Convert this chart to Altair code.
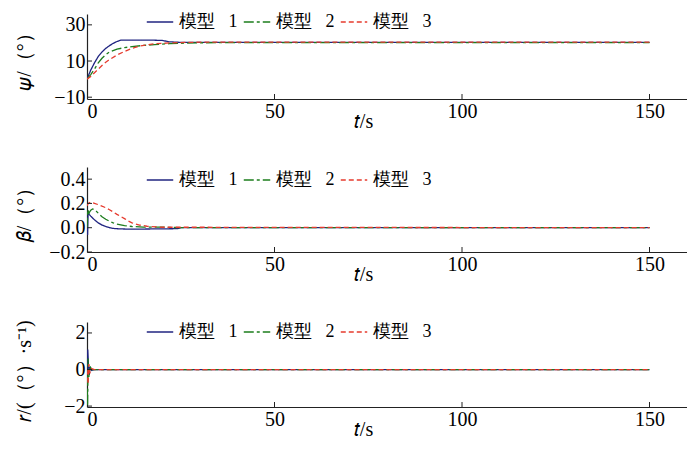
import altair as alt
import pandas as pd

models = ["模型\u2002 1", "模型\u2002 2", "模型\u2002 3"]
colors = ["#1f2480", "#1d7d1d", "#e63b2e"]
dashes = [[1, 0], [10, 3, 3, 3], [5, 3]]
x_ticks = [0, 50, 100, 150]

# panel 1: psi
psi_t1 = [0, 0.5, 1, 2, 3, 4, 5, 6, 7, 8, 9, 12, 16, 20, 22, 25, 150]
psi_v1 = [0, 2.5, 5, 9, 12.5, 15, 17, 18.5, 19.8, 20.8, 21.5, 21.6, 21.6, 21.4, 20.6, 20.3, 20.3]
psi_t2 = [0, 1, 2, 3, 4, 5, 6, 8, 10, 12, 15, 18, 22, 26, 30, 45, 150]
psi_v2 = [0, 2.5, 5.5, 9, 11.5, 13.5, 15, 16.6, 17.4, 18, 18.6, 19.1, 19.6, 19.9, 20.1, 20.2, 20.2]
psi_t3 = [0, 1, 2, 3, 4, 5, 6, 8, 10, 12, 14, 16, 18, 22, 26, 30, 150]
psi_v3 = [0, 1.5, 3.5, 5.5, 7.5, 9.3, 10.8, 13.3, 15.3, 17, 18.2, 19, 19.5, 20, 20.3, 20.4, 20.4]
psi_ticks = [-10, 10, 30]

# panel 2: beta
beta_t1 = [0, 0.15, 0.3, 0.6, 1, 2, 3, 4, 5, 6, 7, 9, 12, 18, 24, 25, 150]
beta_v1 = [0, -0.06, 0.13, 0.11, 0.095, 0.065, 0.04, 0.022, 0.01, 0.0, -0.006, -0.01, -0.012, -0.01, -0.008, 0, 0]
beta_t2 = [0, 0.2, 0.5, 1, 1.5, 2, 3, 4, 5, 6, 7, 8, 10, 12, 15, 20, 25, 150]
beta_v2 = [0, 0.15, 0.12, 0.145, 0.155, 0.15, 0.12, 0.09, 0.07, 0.053, 0.04, 0.03, 0.017, 0.01, 0.005, 0.005, 0, 0]
beta_t3 = [0, 0.3, 1, 2, 3, 4, 5, 6, 7, 8, 9, 10, 11, 12, 14, 16, 20, 150]
beta_v3 = [0.18, 0.2, 0.21, 0.2, 0.19, 0.177, 0.165, 0.148, 0.13, 0.11, 0.092, 0.075, 0.055, 0.04, 0.022, 0.012, 0.004, 0]
beta_ticks = [-0.2, 0, 0.2, 0.4]

# panel 3: r
r_t1 = [0, 0.2, 0.4, 0.6, 0.8, 1.2, 2, 150]
r_v1 = [0, 1.1, 0.2, -0.3, 0.15, -0.05, 0, 0]
r_t2 = [0, 0.15, 0.3, 0.5, 0.8, 1.2, 2, 150]
r_v2 = [0, -2.0, 0.6, -0.4, 0.2, 0, 0, 0]
r_t3 = [0, 0.3, 0.5, 0.8, 1.2, 2, 150]
r_v3 = [0, -0.8, 0.3, -0.2, 0.05, 0, 0]
r_ticks = [-2, 0, 2]

W, H = 600, 85
FONT = "Liberation Serif"


def make_df(ts, vs):
    rows = []
    for m, t, v in zip(models, ts, vs):
        for a, b in zip(t, v):
            rows.append({"t": a, "v": b, "model": m})
    return pd.DataFrame(rows)


def panel(df, ydom, yticks, ytitle, legend_y, title_dy=0):
    X = alt.X("t:Q", scale=alt.Scale(domain=[0, 160], nice=False, zero=False),
              axis=alt.Axis(values=x_ticks, title="𝑡/s", titleX=276, titleY=22,
                            titleBaseline="middle", titleAlign="center"))
    Y = alt.Y("v:Q", scale=alt.Scale(domain=ydom, nice=False, zero=False),
              axis=alt.Axis(values=yticks, title=ytitle, titleX=-63, titleY=H / 2 + title_dy,
                            titleAngle=-90, titleAlign="center", titleBaseline="middle"))
    leg = alt.Legend(orient="none", legendX=59, legendY=legend_y, direction="horizontal",
                     title=None, symbolType="stroke", symbolSize=700, symbolStrokeWidth=1.5,
                     labelFont=FONT, labelFontSize=18, labelColor="black", labelOffset=5,
                     columnPadding=2, padding=0, labelLimit=200)
    lines = alt.Chart(df).mark_line(strokeWidth=1.3, clip=True).encode(
        x=X, y=Y,
        color=alt.Color("model:N", scale=alt.Scale(domain=models, range=colors), legend=leg),
        strokeDash=alt.StrokeDash("model:N", scale=alt.Scale(domain=models, range=dashes), legend=leg),
    )
    xt = alt.Chart(pd.DataFrame({"t": x_ticks[1:]})).mark_rule(color="#222", strokeWidth=1).encode(
        x=X, y=alt.value(H), y2=alt.value(H - 5))
    yt = alt.Chart(pd.DataFrame({"v": yticks})).mark_rule(color="#222", strokeWidth=1).encode(
        y=Y, x=alt.value(0), x2=alt.value(5))
    return alt.layer(lines, xt, yt).properties(width=W, height=H)


p1 = panel(make_df([psi_t1, psi_t2, psi_t3], [psi_v1, psi_v2, psi_v3]), [-11, 36], psi_ticks, "𝜓/（°）", -6)
p2 = panel(make_df([beta_t1, beta_t2, beta_t3], [beta_v1, beta_v2, beta_v3]), [-0.2, 0.5], beta_ticks, "𝛽/（°）", -1)
p3 = panel(make_df([r_t1, r_t2, r_t3], [r_v1, r_v2, r_v3]), [-2.05, 2.6], r_ticks, "𝑟/(（°）·s⁻¹)", -4, 6)

top = alt.vconcat(p1, p2, spacing=35).resolve_legend(color="independent", strokeDash="independent")
chart = alt.vconcat(top, p3, spacing=34).resolve_legend(
    color="independent", strokeDash="independent"
).properties(
    padding={"left": 6, "top": 0, "right": 0, "bottom": 0},
    background="white",
).configure_view(stroke=None).configure_axis(
    grid=False, ticks=False, domainColor="#222", domainWidth=1.2,
    labelFont=FONT, labelFontSize=20, labelColor="black", labelPadding=2,
    titleFont=FONT, titleFontSize=20, titleFontWeight="normal", titleColor="black",
)

chart.save("out.html", embed_options={"renderer": "svg", "actions": False})
